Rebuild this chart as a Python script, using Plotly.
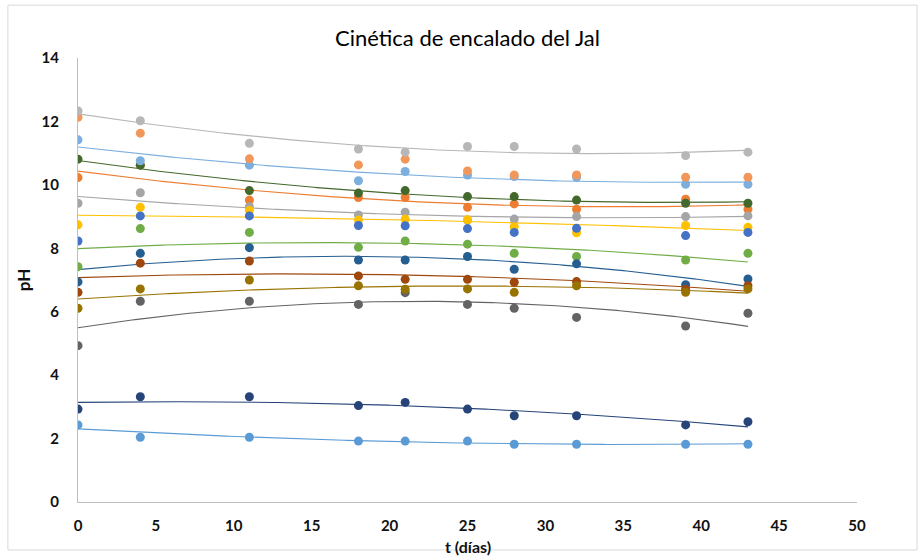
import numpy as np
import plotly.graph_objects as go

t = [0, 4, 11, 18, 21, 25, 28, 32, 39, 43]

s_blue       = [2.43, 2.04, 2.04, 1.92, 1.92, 1.92, 1.82, 1.82, 1.82, 1.82]
s_orange     = [10.23, 10.62, 9.52, 9.60, 9.60, 9.29, 9.40, 9.23, 9.55, 9.23]
s_gray       = [9.42, 9.75, 9.31, 9.05, 9.14, 8.89, 8.92, 9.00, 9.00, 9.02]
s_gold       = [8.74, 9.29, 9.19, 8.89, 8.92, 8.90, 8.68, 8.49, 8.72, 8.66]
s_blue2      = [8.23, 9.02, 9.02, 8.72, 8.71, 8.62, 8.50, 8.63, 8.40, 8.50]
s_green      = [7.42, 8.62, 8.50, 8.03, 8.23, 8.13, 7.84, 7.74, 7.63, 7.84]
s_darkblue   = [6.94, 7.84, 8.02, 7.63, 7.63, 7.74, 7.34, 7.51, 6.85, 7.03]
s_brown      = [6.61, 7.53, 7.60, 7.13, 7.02, 7.02, 6.93, 6.95, 6.71, 6.82]
s_darkgray   = [4.93, 6.33, 6.33, 6.23, 6.60, 6.23, 6.11, 5.82, 5.55, 5.95]
s_darkgold   = [6.11, 6.72, 7.00, 6.82, 6.71, 6.72, 6.61, 6.82, 6.61, 6.72]
s_navy       = [2.93, 3.32, 3.32, 3.04, 3.14, 2.93, 2.72, 2.72, 2.43, 2.53]
s_darkgreen  = [10.81, 10.62, 9.82, 9.74, 9.82, 9.63, 9.63, 9.52, 9.42, 9.42]
s_lightblue  = [11.42, 10.76, 10.62, 10.13, 10.42, 10.31, 10.26, 10.24, 10.02, 10.02]
s_lightorg   = [12.13, 11.63, 10.82, 10.63, 10.81, 10.44, 10.31, 10.31, 10.24, 10.24]
s_lightgray  = [12.33, 12.02, 11.31, 11.13, 11.03, 11.21, 11.21, 11.13, 10.92, 11.03]

series = [
    ("1", s_blue, "#5B9BD5", True),
    ("2", s_orange, "#ED7D31", True),
    ("3", s_gray, "#A5A5A5", True),
    ("4", s_gold, "#FFC000", True),
    ("5", s_blue2, "#4472C4", False),
    ("6", s_green, "#70AD47", True),
    ("7", s_darkblue, "#255E91", True),
    ("8", s_brown, "#9E480E", True),
    ("9", s_darkgray, "#636363", True),
    ("10", s_darkgold, "#997300", True),
    ("11", s_navy, "#264478", True),
    ("12", s_darkgreen, "#43682B", True),
    ("13", s_lightblue, "#7CAFDD", True),
    ("14", s_lightorg, "#F1975A", False),
    ("15", s_lightgray, "#B7B7B7", True),
]

FONT = "Lato, Open Sans, Arial"

fig = go.Figure()
tt = np.linspace(0, 43, 200)
for name, vals, col, trend in series:
    if trend:
        c = np.polyfit(t, vals, 2)
        fig.add_trace(go.Scatter(x=tt, y=np.polyval(c, tt), mode="lines",
                                 line=dict(color=col, width=1.1), hoverinfo="skip",
                                 showlegend=False))
for name, vals, col, trend in series:
    fig.add_trace(go.Scatter(x=t, y=vals, mode="markers", name=name,
                             marker=dict(color=col, size=9), showlegend=False))

fig.update_layout(
    width=920, height=556,
    margin=dict(l=78, r=63, t=58, b=54, autoexpand=False),
    paper_bgcolor="white", plot_bgcolor="white",
    font=dict(family=FONT, color="#111"),
    title=dict(text="Cinética de encalado del Jal", x=0.5, xref="paper", xanchor="center",
               y=1 - 38 / 556, yanchor="middle",
               font=dict(size=22, color="#000", family=FONT)),
    showlegend=False,
    shapes=[dict(type="rect", xref="paper", yref="paper",
                 x0=-0.09, x1=1.077, y0=-0.108, y1=1.119,
                 line=dict(color="#D9D9D9", width=1), fillcolor="rgba(0,0,0,0)", layer="below")],
    annotations=[dict(text="t (días)", xref="paper", yref="paper", x=0.5, y=-0.1,
                      xanchor="center", yanchor="middle", showarrow=False,
                      font=dict(size=16, color="#111", weight="bold", family=FONT))],
)
fig.update_xaxes(range=[0, 50], dtick=5, tick0=0, showgrid=False, zeroline=False,
                 showline=True, linecolor="#BFBFBF", linewidth=1, ticks="",
                 ticklabelstandoff=10, automargin=False,
                 tickfont=dict(size=15, color="#111", weight="bold"))
fig.update_yaxes(range=[0, 14], dtick=2, tick0=0, showgrid=False, zeroline=False,
                 showline=True, linecolor="#BFBFBF", linewidth=1, ticks="",
                 ticklabelstandoff=15, automargin=False,
                 tickfont=dict(size=15, color="#111", weight="bold"),
                 title=dict(text="pH", font=dict(size=17, color="#111", weight="bold"), standoff=6))

fig.write_html("out.html")
